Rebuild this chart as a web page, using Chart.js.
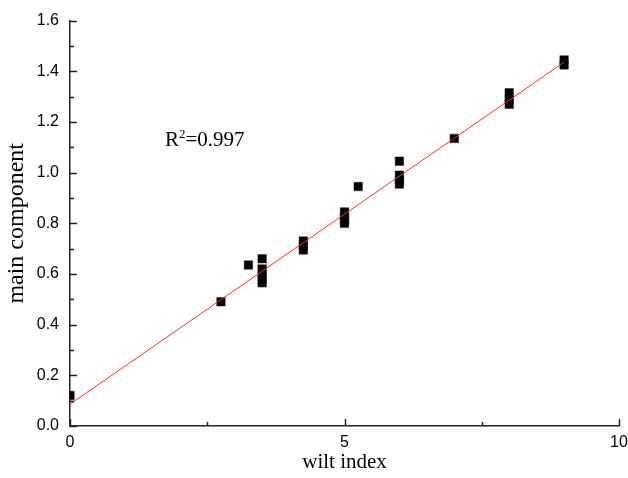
<!DOCTYPE html>
<html>
<head>
<meta charset="utf-8">
<script src="https://cdn.jsdelivr.net/npm/chart.js@4/dist/chart.umd.min.js"></script>
<style>
  html, body { margin: 0; padding: 0; background: #fff; }
  canvas { display: block; }
</style>
</head>
<body>
<canvas id="chart" width="628" height="478"></canvas>
<script>
// wilt index of each sample
const wiltIndex = [0, 2.75, 3.25, 3.5, 3.5, 3.5, 3.5, 3.5, 4.25, 4.25, 4.25,
  5, 5, 5, 5, 5.25, 6, 6, 6, 6, 7, 8, 8, 8, 9, 9];
// main component value of each sample
const mainComponent = [0.12, 0.49, 0.635, 0.66, 0.62, 0.60, 0.58, 0.565, 0.73, 0.71, 0.695,
  0.845, 0.83, 0.81, 0.80, 0.945, 1.045, 0.99, 0.97, 0.955, 1.135, 1.315, 1.29, 1.27, 1.445, 1.425];

// linear fit
const fitIntercept = 0.086;
const fitSlope = 0.150;
const fitRange = [0, 9];
const rSquaredText = '0.997';
const rLabelAt = [1.73, 1.105];

const xTickLabels = ['0', '5', '10'];

const points = wiltIndex.map((x, i) => ({ x: x, y: mainComponent[i] }));
const fitLine = fitRange.map(x => ({ x: x, y: fitIntercept + fitSlope * x }));

const tickFont = { family: '"Liberation Sans", Arial, sans-serif', size: 16 };
const serif = '"Liberation Serif", "Times New Roman", serif';

// inward tick marks, like the original plot
const innerTicks = {
  id: 'innerTicks',
  afterDraw(chart) {
    const ctx = chart.ctx;
    const xs = chart.scales.x, ys = chart.scales.y;
    const area = chart.chartArea;
    ctx.save();
    ctx.strokeStyle = '#222';
    ctx.lineWidth = 1.5;
    ctx.beginPath();
    xs.ticks.forEach(t => {
      const px = Math.round(xs.getPixelForValue(t.value)) + 0.5;
      const len = (t.value % 5 === 0) ? 7 : 4;
      ctx.moveTo(px, area.bottom);
      ctx.lineTo(px, area.bottom - len);
    });
    ys.ticks.forEach(t => {
      const py = Math.round(ys.getPixelForValue(t.value)) + 0.5;
      const major = Math.abs(t.value * 5 - Math.round(t.value * 5)) < 1e-6;
      ctx.moveTo(area.left, py);
      ctx.lineTo(area.left + (major ? 7 : 4), py);
    });
    ctx.stroke();

    // R squared note
    const lx = xs.getPixelForValue(rLabelAt[0]);
    const ly = ys.getPixelForValue(rLabelAt[1]);
    ctx.fillStyle = '#000';
    ctx.textBaseline = 'alphabetic';
    ctx.textAlign = 'left';
    ctx.font = '21px ' + serif;
    ctx.fillText('R', lx, ly);
    let w = ctx.measureText('R').width;
    ctx.font = '13px ' + serif;
    ctx.fillText('2', lx + w, ly - 8);
    w += ctx.measureText('2').width;
    ctx.font = '21px ' + serif;
    ctx.fillText('=' + rSquaredText, lx + w, ly);
    ctx.restore();
  }
};

new Chart(document.getElementById('chart'), {
  type: 'scatter',
  data: {
    datasets: [
      {
        type: 'line',
        data: fitLine,
        borderColor: '#ff2a2a',
        borderWidth: 1,
        pointRadius: 0,
        fill: false
      },
      {
        data: points,
        pointStyle: 'rect',
        pointRadius: 6,
        pointHoverRadius: 6,
        backgroundColor: '#000',
        borderColor: '#222',
        borderWidth: 0.5
      }
    ]
  },
  options: {
    responsive: false,
    animation: false,
    events: [],
    layout: { padding: { top: 19, right: 9, left: 0, bottom: 0 } },
    plugins: { legend: { display: false }, tooltip: { enabled: false } },
    scales: {
      x: {
        type: 'linear',
        min: 0, max: 10,
        afterFit(scale) {
          scale.height = 52;
          scale.paddingLeft = 0;
          scale.paddingRight = 0;
        },
        grid: { display: false, drawTicks: false },
        border: { display: true, color: '#222', width: 1.5 },
        ticks: {
          stepSize: 2.5,
          autoSkip: false,
          maxRotation: 0,
          padding: 7,
          color: '#000',
          font: tickFont,
          callback: v => (v % 5 === 0 ? xTickLabels[v / 5] : '')
        },
        title: { display: true, text: 'wilt index', color: '#000', font: { family: serif, size: 21 }, padding: { top: 0, bottom: 3 } }
      },
      y: {
        type: 'linear',
        min: 0, max: 1.6,
        afterFit(scale) { scale.width = 70; },
        grid: { display: false, drawTicks: false },
        border: { display: true, color: '#222', width: 1.5 },
        ticks: {
          stepSize: 0.1,
          autoSkip: false,
          padding: 11,
          color: '#000',
          font: tickFont,
          callback: v => {
            const r = Math.round(v * 10);
            return r % 2 === 0 ? (r / 10).toFixed(1) : '';
          }
        },
        title: { display: true, text: 'main component', color: '#000', font: { family: serif, size: 24 }, padding: { top: 2, bottom: 0 } }
      }
    }
  },
  plugins: [innerTicks]
});
</script>
</body>
</html>
